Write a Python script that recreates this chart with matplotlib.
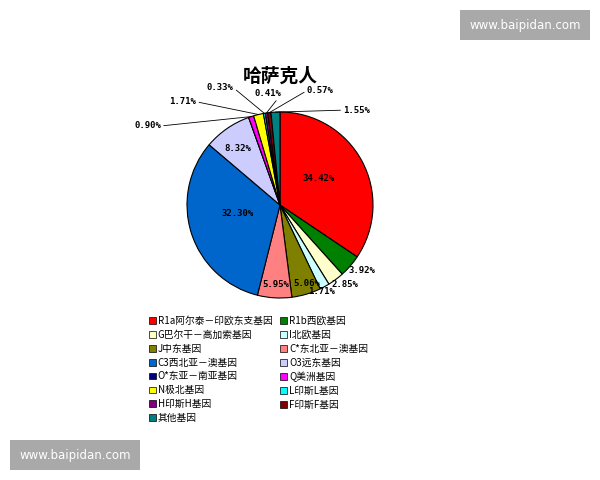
import numpy as np
import matplotlib
matplotlib.use("Agg")
import matplotlib.pyplot as plt
from matplotlib.patches import Rectangle

plt.rcParams['font.family'] = ['Noto Sans CJK SC', 'DejaVu Sans']

# data
title = "哈萨克人"
groups = ["R1a阿尔泰－印欧东支基因", "R1b西欧基因", "G巴尔干－高加索基因", "I北欧基因",
          "J中东基因", "C*东北亚－澳基因", "C3西北亚－澳基因", "O3远东基因",
          "O*东亚－南亚基因", "Q美洲基因", "N极北基因", "L印斯L基因",
          "H印斯H基因", "F印斯F基因", "其他基因"]
values = [34.42, 3.92, 2.85, 1.71, 5.06, 5.95, 32.30, 8.32,
          0.0, 0.90, 1.71, 0.33, 0.41, 0.57, 1.55]
colors = ["#FF0000", "#008000", "#FFFFCC", "#CCFFFF", "#808000", "#FF8080",
          "#0066CC", "#CCCCFF", "#000080", "#FF00FF", "#FFFF00", "#00FFFF",
          "#800080", "#800000", "#008080"]

# label placement (relative to pie radius = 1); None -> no label
label_pos = [(0.41, 0.29), (0.88, -0.70), (0.70, -0.85), (0.45, -0.93),
             (0.29, -0.84), (-0.05, -0.86), (-0.46, -0.09), (-0.45, 0.61),
             None, (-1.28, 0.85), (-0.90, 1.11), (-0.50, 1.26),
             (0.02, 1.20), (0.29, 1.23), (0.68, 1.02)]
leader = [False] * 9 + [True] * 6

fig = plt.figure(figsize=(6, 4.8), dpi=100)
fig.patch.set_facecolor("white")

# pie axes: center (280,205) px, radius 93 px
R = 93
half = 1.6 * R
ax = fig.add_axes([(280 - half) / 600, (480 - 205 - half) / 480, 2 * half / 600, 2 * half / 480])

wedges, _ = ax.pie(values, colors=colors, startangle=90, counterclock=False,
                   radius=1.0, wedgeprops=dict(edgecolor="black", linewidth=0.8))
ax.set_xlim(-1.6, 1.6)
ax.set_ylim(-1.6, 1.6)
ax.set_aspect("equal")
ax.axis("off")

total = sum(values)
cum = 0
for i, v in enumerate(values):
    mid = 90 - 360 * (cum + v / 2) / total
    cum += v
    if label_pos[i] is None or v == 0:
        continue
    txt = "%.2f%%" % v
    lx, ly = label_pos[i]
    if leader[i]:
        a = np.deg2rad(mid)
        ha = "right" if lx < 0.1 else "left"
        ax.annotate(txt, xy=(np.cos(a), np.sin(a)), xytext=(lx, ly),
                    ha=ha, va="center", fontsize=6.5, family="DejaVu Sans Mono",
                    fontweight="bold",
                    arrowprops=dict(arrowstyle="-", color="black", lw=0.6,
                                    shrinkA=0, shrinkB=0,
                                    relpos=(1, 0.5) if ha == "right" else (0, 0.5)))
    else:
        ax.text(lx, ly, txt, ha="center", va="center", fontsize=6.5,
                family="DejaVu Sans Mono", fontweight="bold")

fig.text(280 / 600, 1 - 76 / 480, title, ha="center", va="center", fontsize=13.5,
         fontweight="bold")

# legend filled row by row (matplotlib fills columns first)
handles = [Rectangle((0, 0), 1, 1, facecolor=c, edgecolor="black", linewidth=0.5) for c in colors]
order = list(range(0, len(groups), 2)) + list(range(1, len(groups), 2))
fig.legend([handles[k] for k in order], [groups[k] for k in order],
           loc="upper left", bbox_to_anchor=(144 / 600, 1 - 311 / 480),
           ncol=2, frameon=False, fontsize=7, handlelength=0.7, handleheight=0.7,
           handletextpad=0.2, columnspacing=0.8, labelspacing=0.4, borderpad=0)

# watermark boxes
for (x0, y0) in [(460, 10), (10, 440)]:
    fig.patches.append(Rectangle((x0 / 600, 1 - (y0 + 30) / 480), 130 / 600, 30 / 480,
                                 transform=fig.transFigure, facecolor="#A9A9A9",
                                 edgecolor="none"))
    fig.text((x0 + 65) / 600, 1 - (y0 + 15) / 480, "www.baipidan.com", color="white",
             ha="center", va="center", fontsize=8.5, family="DejaVu Sans")

fig.savefig("out.png", dpi=100)
